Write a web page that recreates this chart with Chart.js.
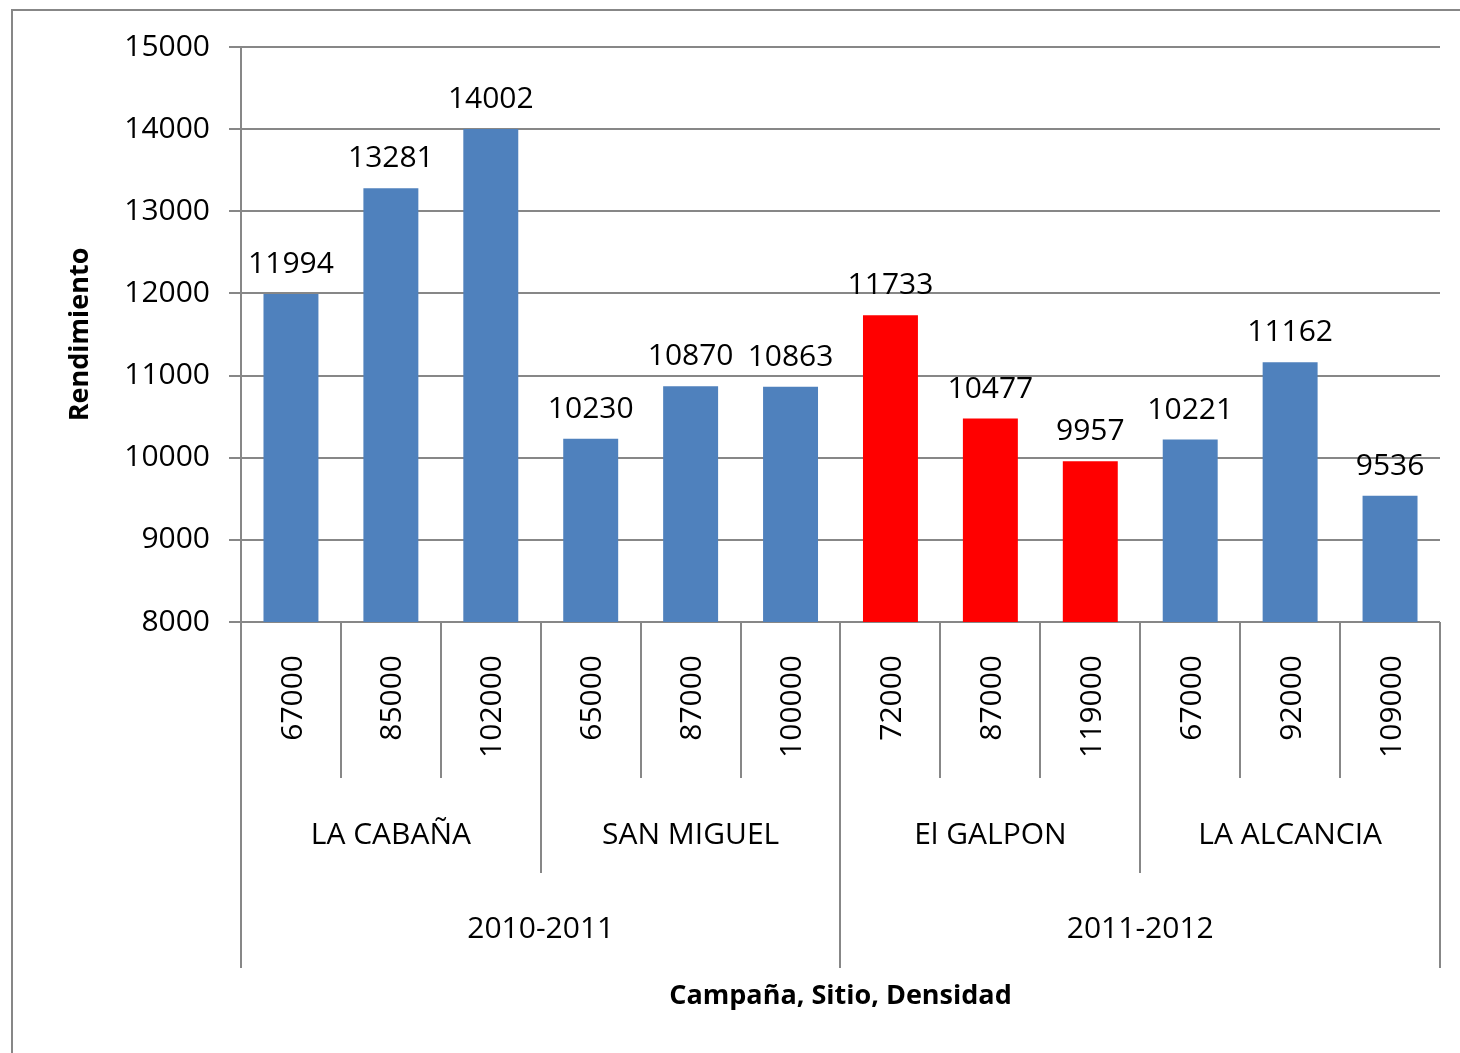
<!DOCTYPE html>
<html>
<head>
<meta charset="utf-8">
<script src="https://cdn.jsdelivr.net/npm/chart.js@4.4.0/dist/chart.umd.min.js"></script>
<style>
  html, body { margin: 0; padding: 0; background: #fff; }
  #wrap { width: 1460px; height: 1053px; position: relative; }
</style>
</head>
<body>
<div id="wrap"><canvas id="chart"></canvas></div>
<script>
// Data
const densities = ['67000', '85000', '102000', '65000', '87000', '100000', '72000', '87000', '119000', '67000', '92000', '109000'];
const rendimiento = [11994, 13281, 14002, 10230, 10870, 10863, 11733, 10477, 9957, 10221, 11162, 9536];
const sites = ['LA CABAÑA', 'SAN MIGUEL', 'El GALPON', 'LA ALCANCIA'];
const campaigns = ['2010-2011', '2011-2012'];
const yTicks = [8000, 9000, 10000, 11000, 12000, 13000, 14000, 15000];

const perSite = densities.length / sites.length;
const perCampaign = densities.length / campaigns.length;
const highlightSite = 'El GALPON';

const FONT = '"Open Sans", "Liberation Sans", sans-serif';
const gridColor = '#878787';
const blue = '#4F81BD';
const red = '#FF0000';

// Multi-level category axis, data labels, titles and frame
const layersPlugin = {
    id: 'layers',
    afterDraw(chart) {
        const ctx = chart.ctx;
        const area = chart.chartArea;
        const xs = chart.scales.x;
        const half = (xs.getPixelForValue(1) - xs.getPixelForValue(0)) / 2;
        const edge = i => i === 0 ? area.left : (i === densities.length ? area.right : xs.getPixelForValue(i) - half);

        ctx.save();

        // outer frame
        ctx.strokeStyle = gridColor;
        ctx.lineWidth = 2;
        ctx.strokeRect(12, 10, 1500, 1100);

        // value labels
        ctx.fillStyle = '#000';
        ctx.font = '30px ' + FONT;
        ctx.textAlign = 'center';
        ctx.textBaseline = 'alphabetic';
        chart.getDatasetMeta(0).data.forEach((bar, i) => {
            ctx.fillText(String(rendimiento[i]), bar.x, bar.y - 21);
        });

        // dividers below the axis
        ctx.strokeStyle = gridColor;
        ctx.lineWidth = 2;
        for (let i = 0; i <= densities.length; i++) {
            let len = 156;
            if (i % perSite === 0) len = 251;
            if (i % perCampaign === 0) len = 346;
            const px = Math.round(edge(i));
            ctx.beginPath();
            ctx.moveTo(px, area.bottom);
            ctx.lineTo(px, area.bottom + len);
            ctx.stroke();
        }

        // density labels (rotated)
        ctx.fillStyle = '#000';
        ctx.font = '30px ' + FONT;
        densities.forEach((d, i) => {
            ctx.save();
            ctx.translate(xs.getPixelForValue(i) + 2, area.bottom + 33);
            ctx.rotate(-Math.PI / 2);
            ctx.textAlign = 'right';
            ctx.textBaseline = 'middle';
            ctx.fillText(d, 0, 0);
            ctx.restore();
        });

        // site labels
        ctx.textAlign = 'center';
        ctx.textBaseline = 'middle';
        sites.forEach((s, k) => {
            const cx = (edge(k * perSite) + edge((k + 1) * perSite)) / 2;
            ctx.fillText(s, cx, area.bottom + 213);
        });

        // campaign labels
        campaigns.forEach((c, k) => {
            const cx = (edge(k * perCampaign) + edge((k + 1) * perCampaign)) / 2;
            ctx.fillText(c, cx, area.bottom + 307);
        });

        // axis titles
        ctx.font = 'bold 27px ' + FONT;
        ctx.fillText('Campaña, Sitio, Densidad', (area.left + area.right) / 2, area.bottom + 374);
        ctx.save();
        ctx.translate(80, (area.top + area.bottom) / 2);
        ctx.rotate(-Math.PI / 2);
        ctx.fillText('Rendimiento', 0, 0);
        ctx.restore();

        ctx.restore();
    }
};

new Chart(document.getElementById('chart'), {
    type: 'bar',
    data: {
        labels: densities,
        datasets: [{
            label: 'Rendimiento',
            data: rendimiento,
            backgroundColor: c => sites[Math.floor(c.dataIndex / perSite)] === highlightSite ? red : blue,
            barPercentage: 0.55,
            categoryPercentage: 1.0,
            borderWidth: 0
        }]
    },
    options: {
        responsive: true,
        maintainAspectRatio: false,
        animation: false,
        layout: {
            padding: { top: 47, right: 20, bottom: 431, left: 0 }
        },
        plugins: {
            legend: { display: false },
            tooltip: { enabled: false }
        },
        scales: {
            x: {
                display: false
            },
            y: {
                min: yTicks[0],
                max: yTicks[yTicks.length - 1],
                afterFit: scale => { scale.width = 241; },
                afterBuildTicks: scale => { scale.ticks = yTicks.map(v => ({ value: v })); },
                grid: {
                    color: gridColor,
                    lineWidth: 2,
                    tickLength: 12
                },
                border: { color: gridColor, width: 2 },
                ticks: {
                    color: '#000',
                    padding: 19,
                    font: { family: FONT, size: 30 },
                    callback: v => String(v)
                }
            }
        }
    },
    plugins: [layersPlugin]
});
</script>
</body>
</html>
